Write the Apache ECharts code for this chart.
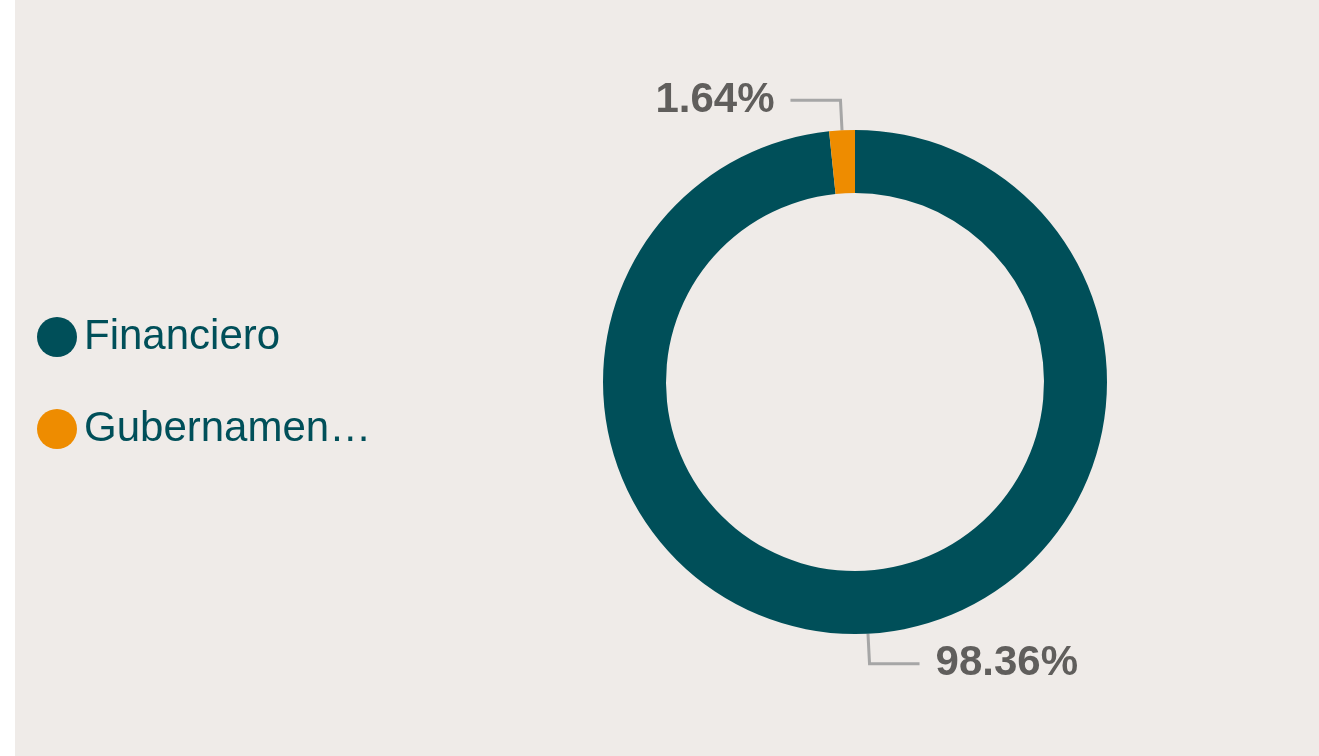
<!DOCTYPE html>
<html>
<head>
<meta charset="utf-8" />
<script src="https://cdn.jsdelivr.net/npm/echarts@6/dist/echarts.min.js"></script>
<style>
  body {
    margin: 0;
    background: #ffffff;
  }
  #chart-sector {
    position: absolute;
    left: 15px;
    top: 0;
    width: 1304px;
    height: 756px;
    background: #efebe8;
  }
</style>
</head>
<body>
<div id="chart-sector"></div>
<script>
  // sectores y su participacion (%)
  const sectorNames = ["Financiero", "Gubernamental"];
  const sectorValues = [98.36, 1.64];
  const sectorColors = ["#004f59", "#ee8c00"];

  const chartDom = echarts.init(document.getElementById("chart-sector"));

  let pieData = sectorNames.map((name, i) => ({
    name: name,
    value: sectorValues[i],
    itemStyle: { color: sectorColors[i] },
  }));

  chartDom.setOption({
    backgroundColor: "#efebe8",
    legend: {
      show: true,
      orient: "vertical",
      left: 17,
      top: 309,
      icon: "circle",
      itemWidth: 40,
      itemHeight: 40,
      itemGap: 46,
      // la leyenda corta los nombres largos
      formatter: (name) => (name.length > 10 ? name.slice(0, 10) + "…" : name),
      textStyle: {
        color: "#004f59",
        fontFamily: "Liberation Sans, Arial, sans-serif",
        fontSize: 42,
        lineHeight: 46,
        padding: [0, 0, 0, 2],
      },
      data: sectorNames,
    },
    series: [
      {
        type: "pie",
        center: [840, 382],
        radius: [189, 252],
        startAngle: 90,
        clockwise: true,
        avoidLabelOverlap: false,
        data: pieData,
        label: {
          show: true,
          position: "outside",
          formatter: "{d}%",
          color: "#605e5c",
          fontFamily: "Liberation Sans, Arial, sans-serif",
          fontWeight: "bold",
          fontSize: 42,
          distanceToLabelLine: 16,
        },
        labelLine: {
          show: true,
          length: 30,
          length2: 50,
          smooth: false,
          lineStyle: {
            color: "#a6a6a6",
            width: 3,
          },
        },
        emphasis: { scale: false },
      },
    ],
  });

  window.addEventListener("resize", () => {
    chartDom.resize();
  });
</script>
</body>
</html>
